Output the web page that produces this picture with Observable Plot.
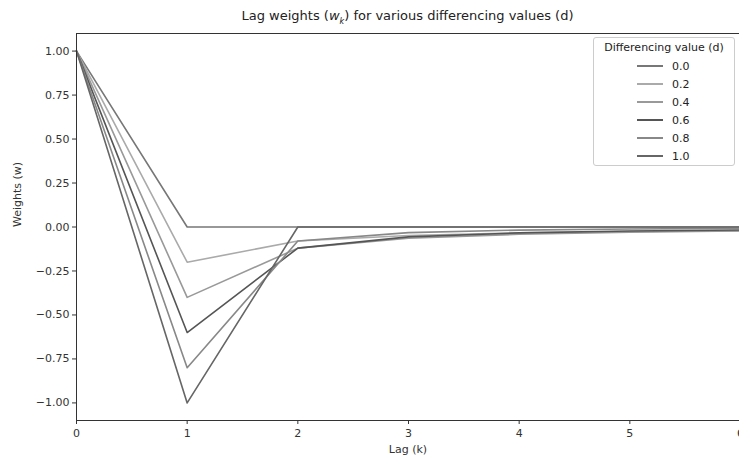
<!DOCTYPE html>
<html>
<head>
<meta charset="utf-8">
<script src="https://cdn.jsdelivr.net/npm/d3@7"></script>
<script src="https://cdn.jsdelivr.net/npm/@observablehq/plot@0.6"></script>
<style>
  html, body { margin: 0; padding: 0; background: #fff; }
  #wrap { position: relative; width: 739px; height: 457px; overflow: hidden; font-family: "DejaVu Sans", sans-serif; color: #333; }
  #title { position: absolute; left: 76px; width: 663px; top: 8px; text-align: center; font-size: 13px; color: #222; }
  #legend { position: absolute; left: 593px; top: 37px; width: 142px; height: 129px; border: 1px solid #ccc; border-radius: 3px; background: rgba(255,255,255,0.85); font-size: 11px; color: #222; box-sizing: border-box; }
  #legend .lt { text-align: center; margin-top: 3px; margin-bottom: 3px; }
  #legend .row { display: flex; align-items: center; height: 18px; padding-left: 43px; }
  #legend .sw { width: 26px; height: 2px; margin-right: 9px; }
</style>
</head>
<body>
<div id="wrap">
  <div id="chart"></div>
  <div id="title">Lag weights (<i>w</i><sub style="font-size:8px"><i>k</i></sub>) for various differencing values (d)</div>
  <div id="legend"></div>
</div>
<script>
// Data
const lags = [0, 1, 2, 3, 4, 5, 6];
const dValues = ["0.0", "0.2", "0.4", "0.6", "0.8", "1.0"];
const w_d00 = [1, 0, 0, 0, 0, 0, 0];
const w_d02 = [1, -0.2, -0.08, -0.048, -0.0336, -0.0255, -0.0204];
const w_d04 = [1, -0.4, -0.12, -0.064, -0.0416, -0.0300, -0.0230];
const w_d06 = [1, -0.6, -0.12, -0.056, -0.0336, -0.0228, -0.0168];
const w_d08 = [1, -0.8, -0.08, -0.032, -0.0176, -0.0113, -0.0079];
const w_d10 = [1, -1, 0, 0, 0, 0, 0];
const yTicks = [1.0, 0.75, 0.5, 0.25, 0, -0.25, -0.5, -0.75, -1.0];
const xTicks = [0, 1, 2, 3, 4, 5, 6];

const lineColors = ["#777777", "#aaaaaa", "#999999", "#555555", "#888888", "#666666"];

const series = [w_d00, w_d02, w_d04, w_d06, w_d08, w_d10];
const rows = [];
series.forEach((ws, i) => ws.forEach((w, j) => rows.push({d: dValues[i], k: lags[j], w})));

const plot = Plot.plot({
  width: 739,
  height: 457,
  marginLeft: 76,
  marginRight: 0,
  marginTop: 33,
  marginBottom: 37,
  style: { fontFamily: "DejaVu Sans, sans-serif", fontSize: "11px", color: "#333", background: "#fff" },
  x: { domain: [0, 6], range: [76, 740], ticks: xTicks, tickSize: 4, tickPadding: 5, tickFormat: d3.format("d"), label: null },
  y: { domain: [-1.1, 1.1], ticks: yTicks, tickSize: 4, tickPadding: 3, tickFormat: d3.format(".2f"), label: null },
  color: { domain: dValues, range: lineColors },
  marks: [
    Plot.line(rows, { x: "k", y: "w", z: "d", stroke: "d", strokeWidth: 1.6 }),
    Plot.ruleX([0], { stroke: "#333", strokeWidth: 1 }),
    Plot.ruleY([-1.1, 1.1], { stroke: "#333", strokeWidth: 1 }),
    Plot.text(["Lag (k)"], { frameAnchor: "bottom", dy: 32, text: d => d, fontSize: 11, fill: "#333" }),
    Plot.text(["Weights (w)"], { frameAnchor: "left", dx: -59, rotate: -90, text: d => d, fontSize: 11, fill: "#333" })
  ]
});
document.getElementById("chart").appendChild(plot);

const legend = document.getElementById("legend");
const lt = document.createElement("div");
lt.className = "lt";
lt.textContent = "Differencing value (d)";
legend.appendChild(lt);
dValues.forEach((d, i) => {
  const row = document.createElement("div");
  row.className = "row";
  const sw = document.createElement("div");
  sw.className = "sw";
  sw.style.background = lineColors[i];
  const lab = document.createElement("span");
  lab.textContent = d;
  row.appendChild(sw);
  row.appendChild(lab);
  legend.appendChild(row);
});
</script>
</body>
</html>
